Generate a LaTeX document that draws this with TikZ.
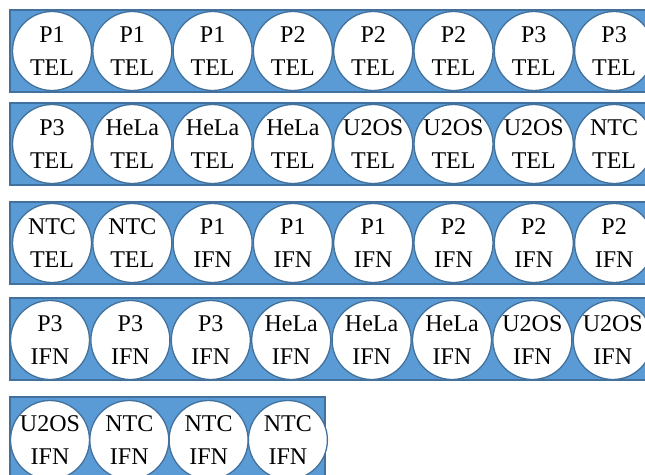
\documentclass[tikz,border=0pt]{standalone}
\usepackage{fontspec}
\setmainfont{Liberation Serif}
\definecolor{fillblue}{HTML}{5B9BD5}
\definecolor{edgeblue}{HTML}{41719C}
\begin{document}
\begin{tikzpicture}[x=1pt,y=-1pt,
  strip/.style={draw=edgeblue, fill=fillblue, line width=1.6pt},
  well/.style={circle, draw=edgeblue, fill=white, line width=1.3pt,
    minimum size=79pt, inner sep=0pt, align=center,
    font=\fontsize{24}{33}\selectfont}]
\useasboundingbox (0,0) rectangle (645,474);
% strips
\path[strip] (10,10) rectangle (660,92);
\path[strip] (10,103) rectangle (660,185);
\path[strip] (10,202) rectangle (660,284);
\path[strip] (10,298) rectangle (660,380);
\path[strip] (10,397) rectangle (325,490);
% row 1
\foreach \a/\b [count=\i from 0] in {P1/TEL,P1/TEL,P1/TEL,P2/TEL,P2/TEL,P2/TEL,P3/TEL,P3/TEL}
  {\node[well] (ra\i) at (52+80.3*\i,51) {\a\\\b};}
% row 2
\foreach \a/\b [count=\i from 0] in {P3/TEL,HeLa/TEL,HeLa/TEL,HeLa/TEL,U2OS/TEL,U2OS/TEL,U2OS/TEL,NTC/TEL}
  {\node[well] (rb\i) at (52+80.3*\i,144) {\a\\\b};}
% row 3
\foreach \a/\b [count=\i from 0] in {NTC/TEL,NTC/TEL,P1/IFN,P1/IFN,P1/IFN,P2/IFN,P2/IFN,P2/IFN}
  {\node[well] (rc\i) at (52+80.3*\i,243) {\a\\\b};}
% row 4
\foreach \a/\b [count=\i from 0] in {P3/IFN,P3/IFN,P3/IFN,HeLa/IFN,HeLa/IFN,HeLa/IFN,U2OS/IFN,U2OS/IFN}
  {\node[well] (rd\i) at (50+80.4*\i,340) {\a\\\b};}
% row 5
\foreach \a/\b [count=\i from 0] in {U2OS/IFN,NTC/IFN,NTC/IFN,NTC/IFN}
  {\node[well] (re\i) at (50+79.3*\i,440) {\a\\\b};}
\end{tikzpicture}
\end{document}
